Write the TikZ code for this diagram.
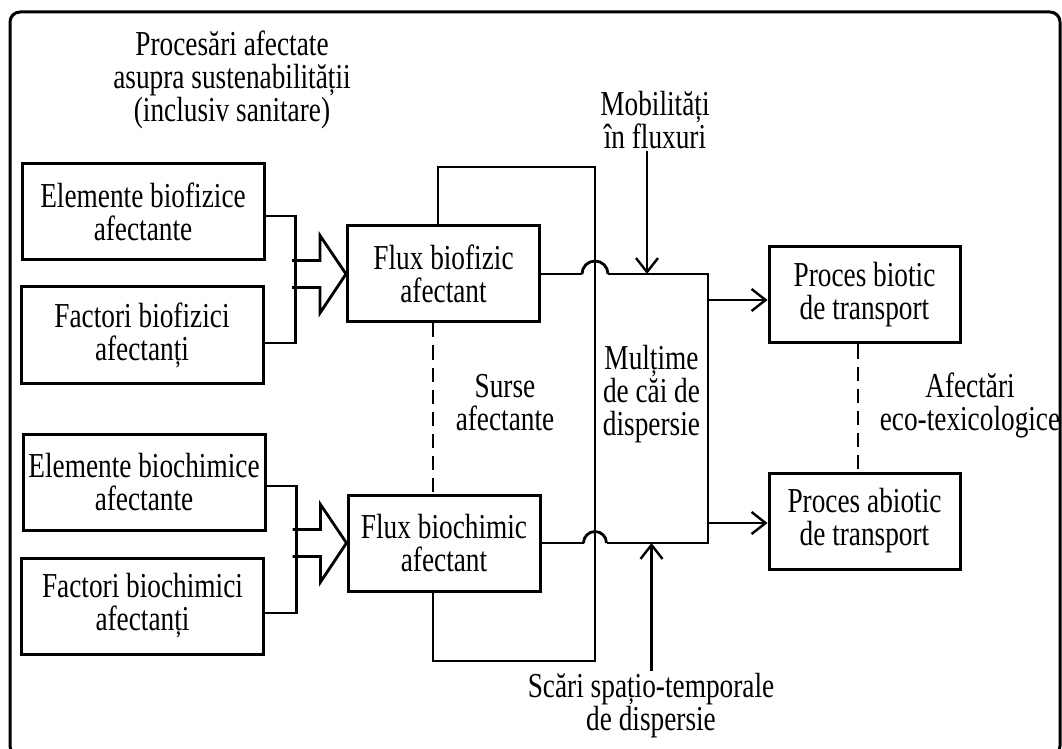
\documentclass[tikz,border=0pt]{standalone}
\usepackage{fontspec}
\setmainfont{Liberation Serif}[FakeStretch=0.78]
\usetikzlibrary{arrows.meta,calc}
\newcommand\diagfont{\fontsize{17.5pt}{16.5pt}\selectfont\lineskiplimit=-20pt\lineskip=0pt}
\begin{document}
\begin{tikzpicture}[x=0.5pt,y=-0.5pt,
  every node/.style={font=\diagfont,align=center},
  box/.style={draw,line width=1.5pt,inner sep=0pt,minimum height=48pt},
  lbox/.style={box,minimum width=121pt},
  fbox/.style={box,minimum width=96pt},
  pbox/.style={box,minimum width=95.5pt},
  conn/.style={line width=1.4pt,line join=miter},
  arr/.style={conn,-{Straight Barb[length=7pt,width=11pt,line width=1.2pt]}},
  dashln/.style={line width=1.4pt,dash pattern=on 7pt off 4pt},
  lbl/.style={inner sep=1pt}]
\useasboundingbox (0,0) rectangle (1062,749);
% outer frame
\draw[line width=1.5pt,rounded corners=5pt] (10,12) rectangle (1060,756);

% headings
\node[lbl] (proc) at (232,80) {Procesări afectate\\asupra sustenabilității\\(inclusiv sanitare)};

% input boxes
\node[lbox] (e1) at (143,212) {Elemente biofizice\\afectante};
\node[lbox] (f1) at (142,335) {Factori biofizici\\afectanți};
\node[lbox] (e2) at (144,482) {Elemente biochimice\\afectante};
\node[lbox] (f2) at (142.5,606) {Factori biochimici\\afectanți};

% flux boxes
\node[fbox] (fb) at (443.5,274) {Flux biofizic\\afectant};
\node[fbox] (fc) at (444,543) {Flux biochimic\\afectant};

% transport processes
\node[pbox] (pb) at (864.5,295) {Proces biotic\\de transport};
\node[pbox] (pa) at (864.5,521) {Proces abiotic\\de transport};

% dispersion set: its outline is made of the flux lines and the loop
\node[minimum width=56.5pt,minimum height=134.5pt,inner sep=0pt,outer sep=0pt] (m) at (651.5,408.5) {};
\node[lbl] (mt) at (651.5,394) {Mulțime\\de căi de\\dispersie};

\node[lbl] (surse) at (505,403) {Surse\\afectante};
\node[lbl] (afe) at (970,405) {Afectări\\eco-texicologice};
\node[lbl] (mob) at (655,120) {Mobilități\\în fluxuri};
\node[lbl] (sc) at (651,706) {Scări spațio-temporale\\de dispersie};

% brackets joining the inputs
\draw[conn] ([yshift=-2pt]e1.east) -- ++(30,0) |- ([yshift=-4pt]f1.east);
\draw[conn] ([yshift=-2pt]e2.east) -- ++(30,0) |- ([yshift=-3.5pt]f2.east);

% hollow block arrows
\draw[conn] ($(fb.west)+(-54,-13.5)$) -- ++(28,0) -- ++(0,-25) -- (fb.west)
  -- ++(-26,39) -- ++(0,-25.5) -- ++(-28,0);
\draw[conn] ($(fc.west)+(-54,-13.5)$) -- ++(28,0) -- ++(0,-25) -- (fc.west)
  -- ++(-26,39) -- ++(0,-25.5) -- ++(-28,0);

% loop linking the two flux boxes
\coordinate (h1) at (fb.east -| m.west);
\coordinate (h2) at (fc.east -| m.west);
\draw[conn] ([xshift=-2.75pt]fb.north) |- ($(h1)+(0,-107)$)
  -- ($(h2)+(0,118)$) -| ([xshift=-5.5pt]fc.south);

% flux lines hopping over the loop and closing the dispersion set
\draw[conn] (fb.east) -- ([xshift=-6.5pt]h1);
\draw[conn] ([xshift=-6.5pt]h1) arc[start angle=180,end angle=0,radius=6.5pt];
\draw[conn] ([xshift=6.5pt]h1) -- (h1 -| m.east) -- (h2 -| m.east) -- ([xshift=5.75pt]h2);
\draw[conn] ([xshift=5.75pt]h2) arc[start angle=0,end angle=180,radius=5.75pt];
\draw[conn] ([xshift=-5.75pt]h2) -- (fc.east);

% dashed links
\draw[dashln] ([xshift=-5.25pt]fb.south) -- ([xshift=-5.25pt]fb.south |- fc.north);
\draw[dashln] ([xshift=-3.25pt]pb.south) -- ([xshift=-3.25pt]pb.south |- pa.north);

% outputs
\coordinate (pbin) at ([yshift=-2.5pt]pb.west);
\draw[arr] (pbin -| m.east) -- (pbin);
\coordinate (pain) at ([yshift=-1pt]pa.west);
\draw[arr] (pain -| m.east) -- (pain);

% external influences
\coordinate (mobin) at ([xshift=-2.25pt]h1 -| m.north);
\draw[arr] (mob.south -| mobin) -- (mobin);
\coordinate (scin) at (h2 -| m.south);
\draw[arr] (sc.north -| scin) -- (scin);
\end{tikzpicture}
\end{document}
